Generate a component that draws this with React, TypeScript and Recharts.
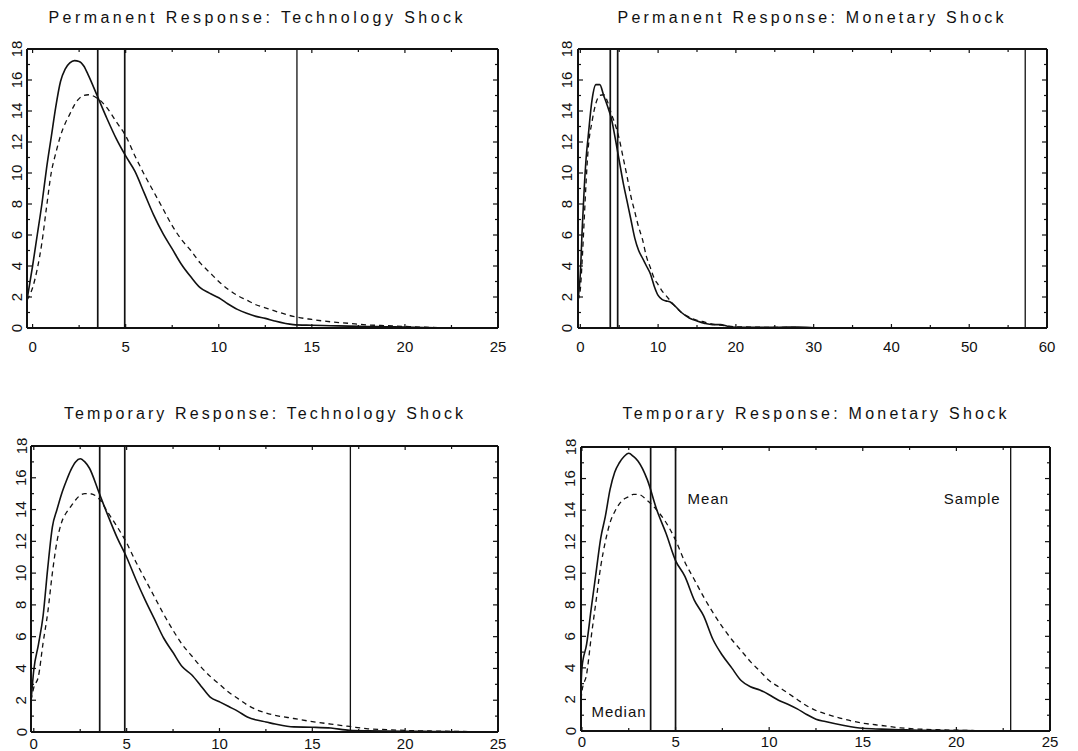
import React from 'react';
import { LineChart, Line, XAxis, YAxis, ReferenceLine } from 'recharts';

const FONT = '"Liberation Sans", "DejaVu Sans", sans-serif';
const INK = '#111';

// ---------- shared tick values ----------
const yTicks = [0, 1, 2, 3, 4, 5, 6, 7, 8, 9, 10, 11, 12, 13, 14, 15, 16, 17, 18];
const yLabels = [0, 2, 4, 6, 8, 10, 12, 14, 16, 18];
const xTicks25 = [0, 2.5, 5, 7.5, 10, 12.5, 15, 17.5, 20, 22.5, 25];
const xLabels25 = [0, 5, 10, 15, 20, 25];
const xTicks60 = [0, 5, 10, 15, 20, 25, 30, 35, 40, 45, 50, 55, 60];
const xLabels60 = [0, 10, 20, 30, 40, 50, 60];

// ---------- Panel 1: Permanent Response: Technology Shock ----------
const permTechX = [-0.3, 0, 0.25, 0.5, 0.75, 1, 1.25, 1.5, 1.75, 2, 2.25, 2.5, 2.75, 3, 3.5, 4, 4.5, 5, 5.5, 6, 6.5, 7, 7.5, 8, 8.5, 9, 9.5, 10, 10.5, 11, 11.5, 12, 12.5, 13, 14, 15, 16, 17, 18, 19, 20, 21, 22, 25];
const permTechSolid = [1.8, 4.0, 6.0, 8.0, 10.3, 12.3, 14.3, 15.9, 16.7, 17.1, 17.25, 17.2, 16.9, 16.3, 14.9, 13.5, 12.2, 11.1, 10.1, 8.7, 7.3, 6.1, 5.1, 4.1, 3.3, 2.6, 2.25, 1.95, 1.55, 1.2, 0.95, 0.75, 0.62, 0.45, 0.22, 0.18, 0.15, 0.12, 0.1, 0.08, 0.06, 0.03, 0.01, 0];
const permTechDashed = [1.8, 2.6, 3.8, 5.5, 7.8, 10.0, 11.3, 12.4, 13.2, 13.8, 14.4, 14.8, 15.0, 15.05, 14.8, 14.2, 13.3, 12.4, 11.1, 9.9, 8.8, 7.7, 6.6, 5.7, 5.0, 4.2, 3.6, 3.0, 2.5, 2.1, 1.8, 1.5, 1.3, 1.1, 0.75, 0.55, 0.4, 0.3, 0.2, 0.15, 0.1, 0.05, 0.02, 0];
const permTechMarkers = [3.5, 4.95, 14.2];

// ---------- Panel 2: Permanent Response: Monetary Shock ----------
const permMonX = [-0.3, 0, 0.25, 0.5, 0.75, 1, 1.5, 2, 2.5, 3, 3.5, 4, 4.5, 5, 5.5, 6, 6.5, 7, 7.5, 8, 8.5, 9, 9.5, 10, 10.5, 11, 11.5, 12, 13, 14, 15, 16, 17, 18, 19, 20, 25, 28, 30, 35, 60];
const permMonSolid = [1.8, 3.5, 6.5, 9.0, 11.0, 12.3, 14.7, 15.7, 15.7, 15.0, 14.3, 13.5, 12.2, 10.8, 9.4, 8.2, 7.0, 5.8, 5.0, 4.5, 4.0, 3.5, 2.7, 2.1, 1.85, 1.75, 1.7, 1.5, 1.0, 0.65, 0.45, 0.3, 0.22, 0.22, 0.1, 0.05, 0.05, 0.06, 0.02, 0, 0];
const permMonDashed = [1.8, 2.5, 4.5, 7.0, 9.5, 11.5, 13.3, 14.5, 15.0, 15.05, 14.6, 13.8, 13.1, 12.2, 11.0, 9.8, 8.5, 7.5, 6.5, 5.7, 4.6, 3.9, 3.2, 2.8, 2.4, 2.1, 1.8, 1.5, 1.0, 0.7, 0.5, 0.38, 0.25, 0.18, 0.12, 0.08, 0.04, 0.03, 0.02, 0, 0];
const permMonMarkers = [3.85, 4.8, 57.2];

// ---------- Panel 3: Temporary Response: Technology Shock ----------
const tempTechX = [-0.15, 0, 0.25, 0.5, 0.75, 1, 1.25, 1.5, 1.75, 2, 2.25, 2.5, 2.75, 3, 3.5, 4, 4.5, 5, 5.5, 6, 6.5, 7, 7.5, 8, 8.5, 9, 9.5, 10, 10.5, 11, 11.5, 12, 12.5, 13, 14, 15, 16, 17, 18, 19, 20, 21, 22, 25];
const tempTechSolid = [1.9, 3.9, 5.5, 7.3, 10.3, 12.9, 14.0, 15.0, 15.8, 16.5, 17.0, 17.2, 17.0, 16.6, 15.1, 13.6, 12.2, 11.0, 9.6, 8.3, 7.1, 5.9, 5.0, 4.1, 3.6, 2.9, 2.2, 1.9, 1.6, 1.3, 0.95, 0.75, 0.63, 0.5, 0.32, 0.3, 0.25, 0.1, 0.07, 0.06, 0.05, 0.04, 0.03, 0];
const tempTechDashed = [2.0, 2.8, 3.5, 5.6, 7.5, 10.0, 12.0, 13.2, 13.8, 14.2, 14.6, 14.9, 15.0, 15.0, 14.7, 13.8, 12.9, 11.9, 10.7, 9.6, 8.5, 7.4, 6.4, 5.5, 4.8, 4.1, 3.5, 3.0, 2.5, 2.1, 1.7, 1.4, 1.2, 1.05, 0.85, 0.65, 0.5, 0.35, 0.2, 0.15, 0.1, 0.07, 0.05, 0];
const tempTechMarkers = [3.55, 4.9, 17.05];

// ---------- Panel 4: Temporary Response: Monetary Shock ----------
const tempMonX = [-0.05, 0, 0.25, 0.5, 0.75, 1, 1.25, 1.5, 1.75, 2, 2.25, 2.5, 2.75, 3, 3.5, 4, 4.5, 5, 5.5, 6, 6.5, 7, 7.5, 8, 8.5, 9, 9.5, 10, 10.5, 11, 11.5, 12, 12.5, 13, 14, 15, 16, 17, 18, 19, 20, 21, 22, 25];
const tempMonSolid = [2.8, 4.0, 5.5, 7.8, 10.0, 12.2, 13.6, 15.3, 16.4, 17.0, 17.4, 17.6, 17.4, 17.1, 15.9, 14.0, 12.5, 10.8, 9.8, 8.3, 7.3, 5.8, 4.8, 4.0, 3.2, 2.8, 2.6, 2.3, 1.95, 1.7, 1.4, 1.05, 0.75, 0.6, 0.35, 0.17, 0.12, 0.08, 0.05, 0.04, 0.03, 0.02, 0.01, 0];
const tempMonDashed = [2.0, 2.5, 3.6, 6.0, 8.2, 10.4, 12.0, 13.2, 13.9, 14.4, 14.7, 14.85, 15.0, 15.0, 14.6, 14.0, 13.2, 12.1, 10.7, 9.6, 8.5, 7.5, 6.6, 5.8, 5.1, 4.4, 3.8, 3.2, 2.8, 2.4, 2.0, 1.6, 1.3, 1.1, 0.75, 0.5, 0.35, 0.2, 0.12, 0.08, 0.05, 0.03, 0.02, 0];
const tempMonMarkers = [3.67, 5.0, 22.9];
const tempMonNotes = ['Median', 'Mean', 'Sample'];

type PanelProps = {
  title: string;
  titleWidth: number;
  titleDx: number;
  titleY: number;
  left: number;
  top: number;
  width: number;
  height: number;
  xs: number[];
  solid: number[];
  dashed: number[];
  xMin: number;
  xMax: number;
  xTicks: number[];
  xLabels: number[];
  markers: number[];
  yLabelGap: number;
  xLabelGap: number;
  notes?: string[];
};

const ML = 40;
const MT = 10;
const MR = 12;
const MB = 30;

function Panel(p: PanelProps) {
  const data = p.xs.map((x, i) => ({ x, solid: p.solid[i], dashed: p.dashed[i] }));
  const textStyle = { fontFamily: FONT, fontSize: 15, fill: INK };

  const bottomTick = (props: any) => {
    const { x, y, payload } = props;
    const major = p.xLabels.includes(payload.value);
    return (
      <g>
        <line x1={x} x2={x} y1={y} y2={y - (major ? 4 : 3)} stroke={INK} strokeWidth={1.2} />
        {major ? (
          <text x={x} y={y + p.xLabelGap} textAnchor="middle" dominantBaseline="central" style={textStyle}>
            {payload.value}
          </text>
        ) : null}
      </g>
    );
  };
  const topTick = (props: any) => {
    const { x, y, payload } = props;
    const major = p.xLabels.includes(payload.value);
    return <line x1={x} x2={x} y1={y} y2={y + (major ? 4 : 3)} stroke={INK} strokeWidth={1.2} />;
  };
  const leftTick = (props: any) => {
    const { x, y, payload } = props;
    const major = yLabels.includes(payload.value);
    return (
      <g>
        <line x1={x} x2={x + (major ? 5 : 3)} y1={y} y2={y} stroke={INK} strokeWidth={1.2} />
        {major ? (
          <text
            x={x - p.yLabelGap}
            y={y}
            textAnchor="middle"
            dominantBaseline="central"
            transform={`rotate(-90, ${x - p.yLabelGap}, ${y})`}
            style={textStyle}
          >
            {payload.value}
          </text>
        ) : null}
      </g>
    );
  };
  const rightTick = (props: any) => {
    const { x, y, payload } = props;
    const major = yLabels.includes(payload.value);
    return <line x1={x} x2={x - (major ? 5 : 3)} y1={y} y2={y} stroke={INK} strokeWidth={1.2} />;
  };

  const noteContent = (i: number) => (props: any) => {
    const vb = props.viewBox || {};
    const vx = vb.x ?? 0;
    const vy = vb.y ?? 0;
    const vh = vb.height ?? 0;
    if (!p.notes) return null;
    const txt = p.notes[i];
    if (i === 0) {
      return (
        <text x={vx - 4} y={vy + vh - 14} textAnchor="end" style={{ ...textStyle, letterSpacing: 1 }}>
          {txt}
        </text>
      );
    }
    if (i === 1) {
      return (
        <text x={vx + 12} y={vy + 57} textAnchor="start" style={{ ...textStyle, letterSpacing: 1 }}>
          {txt}
        </text>
      );
    }
    return (
      <text x={vx - 10} y={vy + 57} textAnchor="end" style={{ ...textStyle, letterSpacing: 1 }}>
        {txt}
      </text>
    );
  };

  const chartW = ML + p.width + MR;
  const chartH = MT + p.height + MB;
  const axisLine = { stroke: INK, strokeWidth: 2 };

  return (
    <>
      <svg
        width={chartW}
        height={40}
        style={{ position: 'absolute', left: p.left - ML, top: p.titleY - 28 }}
      >
        <text
          x={ML + p.width / 2 + p.titleDx}
          y={28}
          textAnchor="middle"
          textLength={p.titleWidth}
          lengthAdjust="spacing"
          style={{ fontFamily: FONT, fontSize: 16, fill: INK }}
        >
          {p.title}
        </text>
      </svg>
      <div style={{ position: 'absolute', left: p.left - ML, top: p.top - MT }}>
        <LineChart width={chartW} height={chartH} data={data} margin={{ top: MT - 1, right: MR - 1, left: 0, bottom: 0 }}>
          <XAxis
            dataKey="x"
            type="number"
            domain={[p.xMin, p.xMax]}
            allowDataOverflow
            ticks={p.xTicks}
            interval={0}
            height={MB}
            tickSize={0}
            tickMargin={0}
            tickLine={false}
            axisLine={axisLine}
            tick={bottomTick}
          />
          <XAxis
            xAxisId="top"
            dataKey="x"
            orientation="top"
            type="number"
            domain={[p.xMin, p.xMax]}
            allowDataOverflow
            ticks={p.xTicks}
            interval={0}
            height={1}
            tickSize={0}
            tickMargin={0}
            tickLine={false}
            axisLine={axisLine}
            tick={topTick}
          />
          <YAxis
            type="number"
            domain={[0, 18]}
            allowDataOverflow
            ticks={yTicks}
            interval={0}
            width={ML}
            tickSize={0}
            tickMargin={0}
            tickLine={false}
            axisLine={axisLine}
            tick={leftTick}
          />
          <YAxis
            yAxisId="right"
            orientation="right"
            type="number"
            domain={[0, 18]}
            allowDataOverflow
            ticks={yTicks}
            interval={0}
            width={1}
            tickSize={0}
            tickMargin={0}
            tickLine={false}
            axisLine={axisLine}
            tick={rightTick}
          />
          {p.markers.map((m, i) => (
            <ReferenceLine
              key={'m' + i}
              x={m}
              stroke={INK}
              strokeWidth={i === 2 ? 1.3 : 1.7}
              label={p.notes ? noteContent(i) : undefined}
            />
          ))}
          <Line
            xAxisId="top"
            yAxisId="right"
            type="monotone"
            dataKey="solid"
            stroke={INK}
            strokeOpacity={0}
            strokeWidth={0}
            dot={false}
            activeDot={false}
            isAnimationActive={false}
            legendType="none"
          />
          <Line
            type="monotone"
            dataKey="dashed"
            stroke={INK}
            strokeWidth={1.3}
            strokeDasharray="5 4"
            dot={false}
            activeDot={false}
            isAnimationActive={false}
          />
          <Line
            type="monotone"
            dataKey="solid"
            stroke={INK}
            strokeWidth={1.6}
            dot={false}
            activeDot={false}
            isAnimationActive={false}
          />
        </LineChart>
      </div>
    </>
  );
}

export default function App() {
  return (
    <div style={{ position: 'absolute', left: 0, top: 0, width: 1078, height: 751, background: '#fff', overflow: 'hidden' }}>
      <Panel
        title="Permanent Response: Technology Shock"
        titleWidth={414}
        titleDx={-7}
        titleY={23}
        left={27}
        top={49}
        width={471}
        height={279}
        xs={permTechX}
        solid={permTechSolid}
        dashed={permTechDashed}
        xMin={-0.3}
        xMax={25}
        xTicks={xTicks25}
        xLabels={xLabels25}
        markers={permTechMarkers}
        yLabelGap={11}
        xLabelGap={18}
      />
      <Panel
        title="Permanent Response: Monetary Shock"
        titleWidth={386}
        titleDx={-2}
        titleY={23}
        left={578}
        top={49}
        width={469}
        height={279}
        xs={permMonX}
        solid={permMonSolid}
        dashed={permMonDashed}
        xMin={-0.3}
        xMax={60}
        xTicks={xTicks60}
        xLabels={xLabels60}
        markers={permMonMarkers}
        yLabelGap={12}
        xLabelGap={18}
      />
      <Panel
        title="Temporary Response: Technology Shock"
        titleWidth={399}
        titleDx={-1}
        titleY={419}
        left={31}
        top={446}
        width={467}
        height={286}
        xs={tempTechX}
        solid={tempTechSolid}
        dashed={tempTechDashed}
        xMin={-0.15}
        xMax={25}
        xTicks={xTicks25}
        xLabels={xLabels25}
        markers={tempTechMarkers}
        yLabelGap={10}
        xLabelGap={11}
      />
      <Panel
        title="Temporary Response: Monetary Shock"
        titleWidth={384}
        titleDx={-1}
        titleY={419}
        left={581}
        top={447}
        width={469}
        height={284}
        xs={tempMonX}
        solid={tempMonSolid}
        dashed={tempMonDashed}
        xMin={-0.05}
        xMax={25}
        xTicks={xTicks25}
        xLabels={xLabels25}
        markers={tempMonMarkers}
        yLabelGap={11}
        xLabelGap={10}
        notes={tempMonNotes}
      />
    </div>
  );
}
